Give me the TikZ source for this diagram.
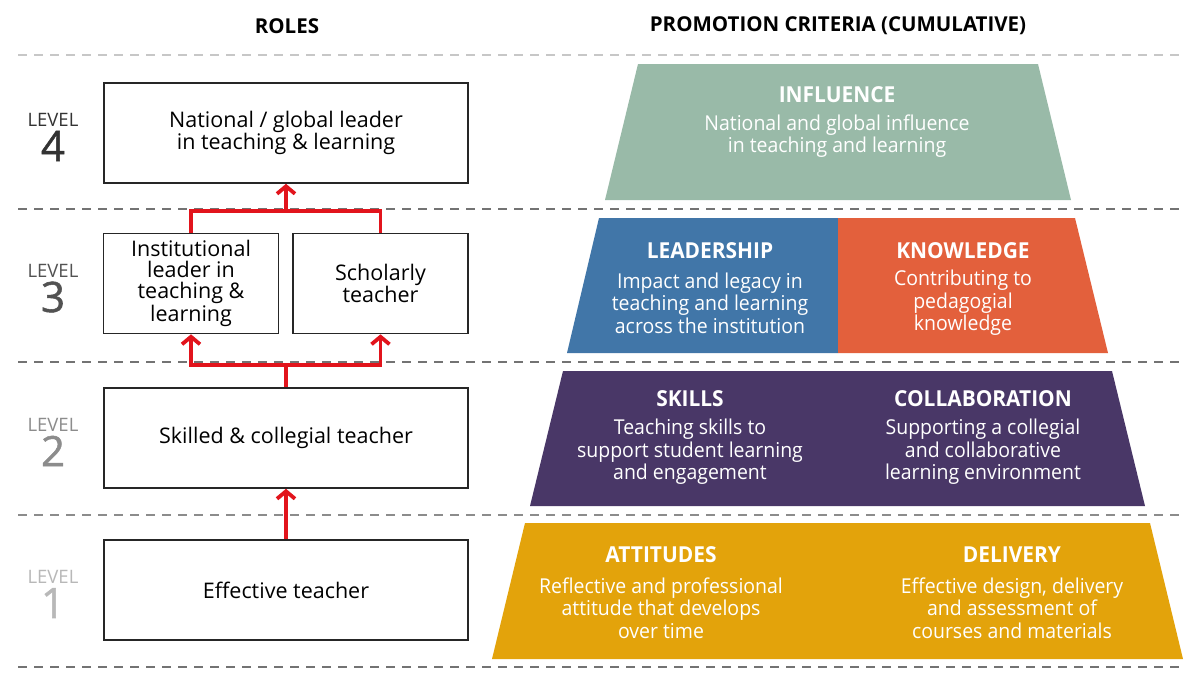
\documentclass[tikz,border=0pt]{standalone}
\usepackage{fontspec}
\setmainfont{Open Sans}
\newfontfamily\condfont{Open Sans}[FakeStretch=0.95]
\newfontfamily\numfont{Open Sans}[FakeBold=1.2]
\usepackage{xcolor}
\usepackage{tikz}
\usetikzlibrary{positioning,arrows.meta,calc}

\definecolor{sage}{HTML}{99BAA8}
\definecolor{leadblue}{HTML}{4176A8}
\definecolor{knoworange}{HTML}{E3603C}
\definecolor{skillpurple}{HTML}{493767}
\definecolor{delivgold}{HTML}{E3A30B}
\definecolor{arrowred}{HTML}{E2141C}

\begin{document}
\begin{tikzpicture}[
    x=1pt, y=-1pt,
    rolebox/.style={rectangle, draw=black!85, line width=1.6pt, minimum width=364pt, minimum height=100pt, inner sep=1pt, align=center, font=\fontsize{21.5}{20.5}\selectfont},
    halfbox/.style={rolebox, minimum width=175pt, font=\fontsize{21.5}{21}\selectfont},
    redline/.style={draw=arrowred, line width=3.8pt},
    arrow/.style={redline, -{Straight Barb[length=7.5pt,width=18pt]}},
    levelline/.style={dash pattern=on 9pt off 7pt, line width=1.4pt},
    heading/.style={font=\bfseries\fontsize{20.5}{20.5}\selectfont},
    crithead/.style={text=white, font=\condfont\bfseries\fontsize{22}{22}\selectfont},
    crit/.style={text=white, align=center, font=\condfont\fontsize{20.5}{22.5}\selectfont},
    lvword/.style={font=\fontsize{18.5}{18.5}\selectfont},
    lvnum/.style={font=\numfont\fontsize{42}{42}\selectfont}
]
\useasboundingbox[fill=white] (0,0) rectangle (1200,680);

% Level separators
\foreach \y/\col in {55/black!22, 209/black!55, 362/black!55, 515/black!45, 667/black!55}
    \draw[levelline, \col] (18,\y) -- (1184,\y);

% Column headings
\node[heading] (roleshead) at (287,26) {ROLES};
\node[heading] (critshead) at (838,26) {PROMOTION CRITERIA (CUMULATIVE)};

% Level labels
\foreach \n/\y/\col in {4/133/black!80, 3/284/black!68, 2/438/black!45, 1/590/black!28} {
    \node[lvword, text=\col] (lvw\n) at (53,\y-13) {LEVEL};
    \node[lvnum, text=\col] (lvn\n) at (53,\y+13) {\n};
}

% Roles
\node[rolebox] (natl) at (286,133) {National / global leader\\in teaching \& learning};
\node[halfbox] (inst) at (191,283.5) {Institutional\\leader in\\teaching \&\\learning};
\node[halfbox] (schol) at (380.5,283.5) {Scholarly\\teacher};
\node[rolebox] (skilled) at (286,438) {Skilled \& collegial teacher};
\node[rolebox] (effective) at (286,590) {Effective teacher};

% Progression arrows
\draw[arrow] (effective.north) -- (skilled.south);
\coordinate (splitB) at ($(skilled.north)+(0,-22)$);
\draw[redline] (skilled.north) -- (splitB);
\draw[arrow] (splitB) -| (inst.south);
\draw[arrow] (splitB) -| (schol.south);
\coordinate (joinC) at ($(natl.south)+(0,27)$);
\draw[redline] (inst.north) |- (joinC) -| (schol.north);
\draw[arrow] (joinC) -- (natl.south);

% Criteria pyramid
\fill[sage] (638,64) -- (1038,64) -- (1071,200) -- (605,200) -- cycle;
\fill[leadblue] (599,218) -- (838,218) -- (838,353) -- (567,353) -- cycle;
\fill[knoworange] (838,218) -- (1075,218) -- (1108,353) -- (838,353) -- cycle;
\fill[skillpurple] (563,371) -- (1112,371) -- (1145,506) -- (530,506) -- cycle;
\fill[delivgold] (525,523) -- (1150,523) -- (1183,659) -- (492,659) -- cycle;

% Level 4 criteria
\node[crithead] (influence) at (837,95) {INFLUENCE};
\node[crit] (influencetxt) at (837,136) {National and global influence\\in teaching and learning};

% Level 3 criteria
\node[crithead] (leadership) at (710,251) {LEADERSHIP};
\node[crit] (leadershiptxt) at (710,303) {Impact and legacy in\\teaching and learning\\across the institution};
\node[crithead] (knowledge) at (963,251) {KNOWLEDGE};
\node[crit] (knowledgetxt) at (963,303) {Contributing to\\pedagogial\\knowledge};

% Level 2 criteria
\node[crithead] (skills) at (690,399) {SKILLS};
\node[crit] (skillstxt) at (690,452) {Teaching skills to\\support student learning\\and engagement};
\node[crithead] (collab) at (983,399) {COLLABORATION};
\node[crit] (collabtxt) at (983,452) {Supporting a collegial\\and collaborative\\learning environment};

% Level 1 criteria
\node[crithead] (attitudes) at (661,555) {ATTITUDES};
\node[crit] (attitudestxt) at (661,608) {Reflective and professional\\attitude that develops\\over time};
\node[crithead] (delivery) at (1012,555) {DELIVERY};
\node[crit] (deliverytxt) at (1012,608) {Effective design, delivery\\and assessment of\\courses and materials};

\end{tikzpicture}
\end{document}
